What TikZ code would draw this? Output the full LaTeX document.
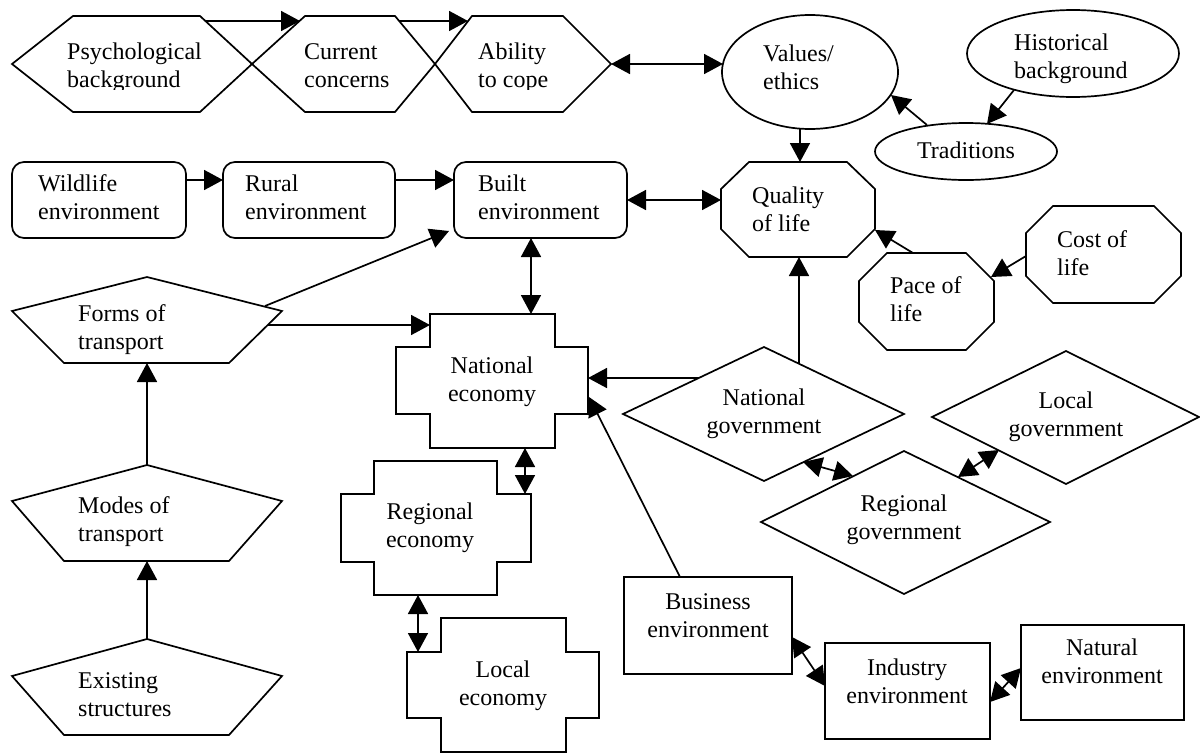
\documentclass[tikz,border=0pt]{standalone}
\usepackage{fontspec}
\setmainfont{Liberation Serif}
\usetikzlibrary{arrows.meta,shapes.geometric}
\newcommand\twoline[2]{\strut#1\\\strut#2}
\begin{document}
\begin{tikzpicture}[x=1pt,y=-1pt,
  outl/.style={draw=black, line width=1.7pt, line join=miter},
  lbl/.style={font=\fontsize{24}{28}\selectfont, inner sep=0pt, align=left, anchor=west},
  clbl/.style={font=\fontsize{24}{28}\selectfont, inner sep=0pt, align=center},
  arr/.style={line width=1.7pt, -{Triangle[length=19pt,width=20pt]}},
  darr/.style={line width=1.7pt, {Triangle[length=19pt,width=20pt]}-{Triangle[length=19pt,width=20pt]}}]
\fill[white] (0,0) rectangle (1200,753);
\useasboundingbox (0,0) rectangle (1200,753);

% ---------- top row hexagons ----------
\draw[outl] (12,64) -- (73,16) -- (200,16) -- (252,64) -- (200,112) -- (73,112) -- cycle;
\draw[outl] (252,64) -- (305,16) -- (395,16) -- (435,64) -- (395,112) -- (305,112) -- cycle;
\draw[outl] (435,64) -- (472,16) -- (563,16) -- (611,64) -- (563,112) -- (472,112) -- cycle;
\begin{scope}
  \clip (0,0) rectangle (620,89);
  \node[lbl] (psy) at (67,68) {\twoline{Psychological}{background}};
  \node[lbl] (cur) at (304,68) {\twoline{Current}{concerns}};
  \node[lbl] (abl) at (478,68) {\twoline{Ability}{to cope}};
\end{scope}

% ---------- ellipses ----------
\node[outl, ellipse, minimum width=176pt, minimum height=114pt, inner sep=0pt] (valE) at (810,72) {};
\node[outl, ellipse, minimum width=212pt, minimum height=87pt, inner sep=0pt] (hisE) at (1073,53.5) {};
\node[outl, ellipse, minimum width=182pt, minimum height=57pt, inner sep=0pt] (traE) at (966,151.5) {};
\node[lbl] (val) at (763,70) {\twoline{Values/}{ethics}};
\node[lbl] (his) at (1014,59) {\twoline{Historical}{background}};
\node[clbl] (tra) at (966,153) {\strut Traditions};

% ---------- rounded rectangles ----------
\draw[outl, rounded corners=12pt] (12,162) rectangle (186,238);
\draw[outl, rounded corners=12pt] (223,162) rectangle (395,238);
\draw[outl, rounded corners=12pt] (454,162) rectangle (627,238);
\node[lbl] (wil) at (38,200) {\twoline{Wildlife}{environment}};
\node[lbl] (rur) at (245,200) {\twoline{Rural}{environment}};
\node[lbl] (bui) at (478,200) {\twoline{Built}{environment}};

% ---------- octagons ----------
\draw[outl] (749,162) -- (847,162) -- (875,189) -- (875,229) -- (847,257) -- (749,257) -- (721,229) -- (721,189) -- cycle;
\draw[outl] (887,253) -- (966,253) -- (994,281) -- (994,322) -- (966,350) -- (887,350) -- (859,322) -- (859,281) -- cycle;
\draw[outl] (1053,206) -- (1154,206) -- (1181,233) -- (1181,276) -- (1154,303) -- (1053,303) -- (1026,276) -- (1026,233) -- cycle;
\node[lbl] (qol) at (752,212) {\twoline{Quality}{of life}};
\node[lbl] (pac) at (890,302) {\twoline{Pace of}{life}};
\node[lbl] (cos) at (1057,256) {\twoline{Cost of}{life}};

% ---------- pentagons ----------
\draw[outl] (147,277) -- (282,311) -- (229,363) -- (64,363) -- (12,311) -- cycle;
\draw[outl] (147,465) -- (282,501) -- (229,561) -- (64,561) -- (12,501) -- cycle;
\draw[outl] (147,639) -- (282,676) -- (229,735) -- (64,735) -- (12,676) -- cycle;
\node[lbl] (frm) at (78,330) {\twoline{Forms of}{transport}};
\node[lbl] (mod) at (78,522) {\twoline{Modes of}{transport}};
\node[lbl] (exi) at (78,697) {\twoline{Existing}{structures}};

% ---------- crosses (economies) ----------
\draw[outl] (430,314) -- (555,314) -- (555,347) -- (588,347) -- (588,414) -- (555,414) -- (555,448) -- (430,448) -- (430,414) -- (396,414) -- (396,347) -- (430,347) -- cycle;
\draw[outl] (374,461) -- (497,461) -- (497,494) -- (531,494) -- (531,562) -- (497,562) -- (497,595) -- (374,595) -- (374,562) -- (341,562) -- (341,494) -- (374,494) -- cycle;
\draw[outl] (441,618) -- (566,618) -- (566,652) -- (599,652) -- (599,718) -- (566,718) -- (566,752) -- (441,752) -- (441,718) -- (407,718) -- (407,652) -- (441,652) -- cycle;
\node[clbl] (nec) at (492,382) {\twoline{National}{economy}};
\node[clbl] (rec) at (430,528) {\twoline{Regional}{economy}};
\node[clbl] (lec) at (503,686) {\twoline{Local}{economy}};

% ---------- diamonds (governments) ----------
\draw[outl] (623,414) -- (764,347) -- (904,414) -- (764,481) -- cycle;
\draw[outl] (932,417) -- (1066,351) -- (1199,417) -- (1066,484) -- cycle;
\draw[outl] (761,522) -- (904,451) -- (1050,522) -- (904,594) -- cycle;
\node[clbl] (ngo) at (764,414) {\twoline{National}{government}};
\node[clbl] (lgo) at (1066,417) {\twoline{Local}{government}};
\node[clbl] (rgo) at (904,520) {\twoline{Regional}{government}};

% ---------- rectangles ----------
\draw[outl] (624,577) rectangle (792,674);
\draw[outl] (825,643) rectangle (990,739);
\draw[outl] (1021,625) rectangle (1184,720);
\node[clbl] (bus) at (708,618) {\twoline{Business}{environment}};
\node[clbl] (ind) at (907,684) {\twoline{Industry}{environment}};
\node[clbl] (nat) at (1102,664) {\twoline{Natural}{environment}};

% ---------- connector end points ----------
\coordinate (psyE) at (205,21);   \coordinate (curW) at (300,21);
\coordinate (curE) at (399,21);   \coordinate (ablW) at (468,21);
\coordinate (ablE) at (611,64);   \coordinate (valW) at (723,64);
\coordinate (valS) at (800,129);  \coordinate (qolN) at (800,162);
\coordinate (traNW) at (927,125); \coordinate (valSE) at (891,95);
\coordinate (hisSW) at (1014,90); \coordinate (traNE) at (987,124);
\coordinate (wilE) at (186,180);  \coordinate (rurW) at (223,180);
\coordinate (rurE) at (395,180);  \coordinate (buiW) at (454,180);
\coordinate (buiE) at (627,200);  \coordinate (qolW) at (721,200);
\coordinate (frmNE) at (265,306); \coordinate (buiSW) at (449,231);
\coordinate (frmE) at (268,325);  \coordinate (necW) at (430,325);
\coordinate (buiS) at (531,238);  \coordinate (necN) at (531,314);
\coordinate (ngoW) at (699,378);  \coordinate (necE) at (588,378);
\coordinate (ngoN) at (799,364);  \coordinate (qolS) at (799,257);
\coordinate (busN) at (680,577);  \coordinate (necSE) at (589,397);
\coordinate (necS) at (525,448);  \coordinate (recN) at (525,494);
\coordinate (recS) at (418,595);  \coordinate (lecN) at (418,652);
\coordinate (ngoSE) at (803,462); \coordinate (rgoNW) at (853,476);
\coordinate (lgoSW) at (999,450); \coordinate (rgoNE) at (958,477);
\coordinate (pacN) at (913,253);  \coordinate (qolE) at (875,230);
\coordinate (cosW) at (1026,256); \coordinate (pacE) at (991,277);
\coordinate (busE) at (792,637);  \coordinate (indW) at (825,686);
\coordinate (indE) at (990,702);  \coordinate (natW) at (1021,668);
\coordinate (modN) at (147,465);  \coordinate (frmS) at (147,363);
\coordinate (exiN) at (147,639);  \coordinate (modS) at (147,561);

% ---------- connectors ----------
\draw[arr] (psyE) -- (curW);
\draw[arr] (curE) -- (ablW);
\draw[darr] (ablE) -- (valW);
\draw[arr] (valS) -- (qolN);
\draw[arr] (traNW) -- (valSE);
\draw[arr] (hisSW) -- (traNE);
\draw[arr] (wilE) -- (rurW);
\draw[arr] (rurE) -- (buiW);
\draw[darr] (buiE) -- (qolW);
\draw[arr] (frmNE) -- (buiSW);
\draw[arr] (frmE) -- (necW);
\draw[darr] (buiS) -- (necN);
\draw[arr] (ngoW) -- (necE);
\draw[arr] (ngoN) -- (qolS);
\draw[arr] (busN) -- (necSE);
\draw[darr] (necS) -- (recN);
\draw[darr] (recS) -- (lecN);
\draw[darr] (ngoSE) -- (rgoNW);
\draw[darr] (lgoSW) -- (rgoNE);
\draw[arr] (pacN) -- (qolE);
\draw[arr] (cosW) -- (pacE);
\draw[darr] (busE) -- (indW);
\draw[darr] (indE) -- (natW);
\draw[arr] (modN) -- (frmS);
\draw[arr] (exiN) -- (modS);
\end{tikzpicture}
\end{document}
